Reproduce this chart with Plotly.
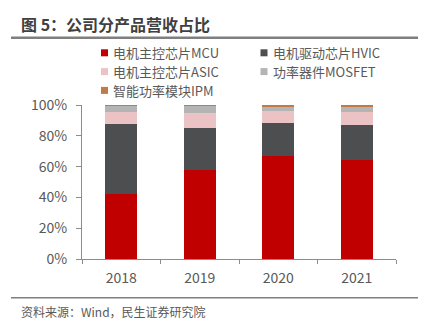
import plotly.graph_objects as go

years = ["2018", "2019", "2020", "2021"]
series_names = ["电机主控芯片MCU", "电机驱动芯片HVIC", "电机主控芯片ASIC", "功率器件MOSFET", "智能功率模块IPM"]
mcu = [0.425, 0.576, 0.667, 0.645]
hvic = [0.450, 0.277, 0.216, 0.225]
asic = [0.080, 0.095, 0.078, 0.087]
mosfet = [0.039, 0.046, 0.029, 0.028]
ipm = [0.006, 0.006, 0.010, 0.015]
series_values = [mcu, hvic, asic, mosfet, ipm]
colors = ["#C00000", "#4D4E50", "#EBC3C4", "#B4B4B4", "#C27B46"]
y_ticks = [0, 0.2, 0.4, 0.6, 0.8, 1.0]
title_text = "图 5：公司分产品营收占比"
source_text = "资料来源：Wind，民生证券研究院"

W, H = 421, 329
L, R, T, B = 82, 396, 104.7, 258.7
font_cjk = "Noto Sans CJK SC, Noto Sans, sans-serif"
txt_col = "#595959"
axis_col = "#8C8C8C"

def px_x(p):
    return (p - L) / (R - L)

def px_y(p):
    return (B - p) / (B - T)

fig = go.Figure()
for name, vals, c in zip(series_names, series_values, colors):
    fig.add_trace(go.Bar(x=years, y=vals, name=name, marker=dict(color=c, line=dict(width=0)),
                         width=0.41, showlegend=False))

fig.update_layout(
    barmode="stack",
    width=W, height=H,
    margin=dict(l=L, r=W - R, t=T, b=H - B, pad=0),
    paper_bgcolor="white", plot_bgcolor="white",
    font=dict(family=font_cjk, color=txt_col, size=14),
    showlegend=False,
)
fig.update_yaxes(range=[0, 1], tickvals=y_ticks, tickformat=".0%", showgrid=False,
                 showline=True, linecolor=axis_col, linewidth=1, ticks="outside",
                 ticklen=5, tickcolor=axis_col, ticklabelstandoff=6,
                 tickfont=dict(size=14, color=txt_col), zeroline=False, fixedrange=True)
fig.update_xaxes(showgrid=False, showline=True, linecolor=axis_col, linewidth=1,
                 ticks="outside", tickson="boundaries", ticklen=4, tickcolor=axis_col,
                 ticklabelstandoff=6, tickfont=dict(size=14, color=txt_col))

shapes = []
annotations = []
# title
annotations.append(dict(xref="paper", yref="paper", x=px_x(20), y=px_y(24), xanchor="left", yanchor="middle",
                        text="<b>" + title_text + "</b>", showarrow=False, borderpad=0,
                        font=dict(size=16, color="#404040", family=font_cjk)))
shapes.append(dict(type="line", xref="paper", yref="paper", x0=px_x(11), x1=px_x(418),
                   y0=px_y(37.5), y1=px_y(37.5), line=dict(color="#7F7F7F", width=2.5)))
# footer
shapes.append(dict(type="line", xref="paper", yref="paper", x0=px_x(11), x1=px_x(418),
                   y0=px_y(297.5), y1=px_y(297.5), line=dict(color="#7F7F7F", width=1.5)))
annotations.append(dict(xref="paper", yref="paper", x=px_x(20), y=px_y(311.5), xanchor="left", yanchor="middle",
                        text=source_text, showarrow=False, borderpad=0,
                        font=dict(size=12, color=txt_col, family=font_cjk)))
# legend
leg_pos = [(101, 52.5), (260.5, 52.5), (101, 71.3), (260.5, 71.3), (101, 90.1)]
for (lx, ly), name, c in zip(leg_pos, series_names, colors):
    shapes.append(dict(type="rect", xref="paper", yref="paper",
                       x0=px_x(lx), x1=px_x(lx + 7), y0=px_y(ly - 3.5), y1=px_y(ly + 3.5),
                       fillcolor=c, line=dict(width=0)))
    annotations.append(dict(xref="paper", yref="paper", x=px_x(lx + 11), y=px_y(ly), xanchor="left",
                            yanchor="middle", text=name, showarrow=False, borderpad=0,
                            font=dict(size=13, color=txt_col, family=font_cjk)))
fig.update_layout(shapes=shapes, annotations=annotations)

fig.write_html("out.html")
